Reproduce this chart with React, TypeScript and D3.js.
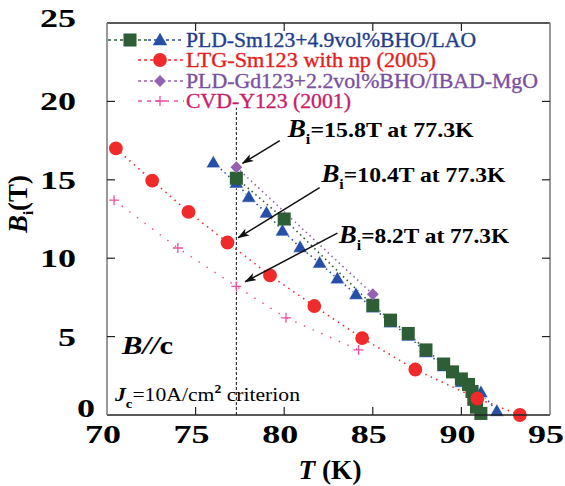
import React from 'react';
import * as d3 from 'd3';

// PLD-Sm123+4.9vol%BHO/LAO (squares)
const tSmSq = [77.3, 80, 85, 86, 87, 88, 89, 89.5, 90, 90.4, 90.6, 90.7, 90.85, 91.1];
const bSmSq = [15.1, 12.5, 7.0, 6.05, 5.2, 4.15, 3.25, 2.75, 2.3, 1.95, 1.5, 1.0, 0.5, 0.1];
// PLD-Sm123+4.9vol%BHO/LAO (triangles)
const tSmTri = [76, 77.3, 78, 79, 79.9, 80.9, 82, 83, 84.05, 85, 86, 87, 88, 89, 90, 91.1, 92];
const bSmTri = [16.1, 14.8, 13.9, 12.9, 11.75, 10.7, 9.7, 8.7, 7.7, 6.85, 5.9, 5.05, 4.0, 3.1, 2.1, 1.45, 0.25];
// LTG-Sm123 with np (2005)
const tLTG = [70.5, 72.55, 74.6, 76.8, 79.2, 81.7, 84.4, 87.4, 90.9, 93.3];
const bLTG = [17.0, 14.95, 12.95, 11.0, 8.9, 6.95, 4.9, 2.9, 1.05, 0];
// PLD-Gd123+2.2vol%BHO/IBAD-MgO
const tGd = [77.3, 85];
const bGd = [15.8, 7.7];
// CVD-Y123 (2001)
const tCVD = [70.4, 74.0, 77.3, 80.1, 84.2];
const bCVD = [13.7, 10.65, 8.2, 6.2, 4.15];

const xTicks = [70, 75, 80, 85, 90, 95];
const yTicks = [0, 5, 10, 15, 20, 25];

const legendLabels = [
  'PLD-Sm123+4.9vol%BHO/LAO',
  'LTG-Sm123 with np (2005)',
  'PLD-Gd123+2.2vol%BHO/IBAD-MgO',
  'CVD-Y123 (2001)',
];
const legendWidths = [290, 250, 352, 165];

// annotations: text anchor and arrow (from -> to), in data units
const annoValues = ['15.8', '10.4', '8.2'];
const annoText = [[80.2, 17.75], [82.1, 14.85], [83.1, 10.95]];
const annoWidths = [186, 184, 170];
const annoArrow = [
  [79.75, 17.5, 77.65, 16.05],
  [82.0, 14.5, 77.4, 11.3],
  [83.0, 11.6, 77.8, 8.5],
];

const W = 565;
const H = 486;
const m = { left: 107, right: 15, top: 23, bottom: 71 };
const FAM = 'Liberation Serif';
const ff = { fontFamily: `'${FAM}'` };

const C = {
  green: '#2e5e35',
  blue: '#2650a8',
  red: '#f02a2a',
  purple: '#9460b0',
  pink: '#f050a0',
};
const legColors = ['#1f3e8c', '#e41e1e', '#7a50a2', '#c81e6a'];

const zip = (a: number[], b: number[]) => a.map((v, i) => [v, b[i]] as [number, number]);

// every run of text goes in its own tspan so the serif face sticks
const T = (props: any) => <tspan style={ff} fontFamily={FAM} {...props} />;

export default function App() {
  const x = d3.scaleLinear().domain([70, 95]).range([m.left, W - m.right]);
  const y = d3.scaleLinear().domain([0, 25]).range([H - m.bottom, m.top]);
  const line = d3.line<[number, number]>().x(d => x(d[0])).y(d => y(d[1]));

  const sq = d3.symbol().type(d3.symbolSquare).size(170)()!;
  const tri = d3.symbol().type(d3.symbolTriangle).size(90)()!;
  const circ = d3.symbol().type(d3.symbolCircle).size(150)()!;
  const dia = d3.symbol().type(d3.symbolSquare).size(70)()!;
  const plus = 'M-5,0H5M0,-5V5';

  const x0 = m.left, x1 = W - m.right, y0 = H - m.bottom, y1 = m.top;

  const legY = [40, 60, 81, 101];

  return (
    <svg width={W} height={H} style={{ position: 'absolute', left: 0, top: 0, background: '#fff' }}>
      <defs>
        <marker id="arr" viewBox="0 0 12 8" refX="11" refY="4" markerWidth="12" markerHeight="8" markerUnits="userSpaceOnUse" orient="auto">
          <path d="M0,0 L12,4 L0,8 L3,4 z" fill="#111" />
        </marker>
      </defs>

      {/* vertical guide at 77.3 K */}
      <line x1={x(77.3)} x2={x(77.3)} y1={y(0)} y2={y(19.6)} stroke="#111" strokeWidth={1} strokeDasharray="3,2" />

      {/* series lines */}
      <path d={line(zip(tSmTri, bSmTri))!} fill="none" stroke={C.blue} strokeWidth={1.6} strokeDasharray="1.5,3.5" />
      <path d={line(zip(tSmSq, bSmSq))!} fill="none" stroke={C.green} strokeWidth={1.6} strokeDasharray="1.5,3.5" />
      <path d={line(zip(tGd, bGd))!} fill="none" stroke={C.purple} strokeWidth={1.6} strokeDasharray="1.5,3.5" />
      <path d={line(zip(tLTG, bLTG))!} fill="none" stroke={C.red} strokeWidth={1.6} strokeDasharray="1.5,4.5" />
      <path d={line(zip(tCVD, bCVD))!} fill="none" stroke={C.pink} strokeWidth={1.5} strokeDasharray="1.5,8" />

      {/* markers */}
      {zip(tSmTri, bSmTri).map((d, i) => (
        <path key={'t' + i} d={tri} transform={`translate(${x(d[0])},${y(d[1]) + 1})`} fill={C.blue} stroke="#fff" strokeWidth={0.6} />
      ))}
      {zip(tSmSq, bSmSq).map((d, i) => (
        <path key={'s' + i} d={sq} transform={`translate(${x(d[0])},${y(d[1])})`} fill={C.green} />
      ))}
      {zip(tGd, bGd).map((d, i) => (
        <path key={'g' + i} d={dia} transform={`translate(${x(d[0])},${y(d[1])}) rotate(45)`} fill={C.purple} />
      ))}
      {zip(tLTG, bLTG).map((d, i) => (
        <path key={'r' + i} d={circ} transform={`translate(${x(d[0])},${y(d[1])})`} fill={C.red} />
      ))}
      {zip(tCVD, bCVD).map((d, i) => (
        <path key={'c' + i} d={plus} transform={`translate(${x(d[0])},${y(d[1])})`} stroke={C.pink} strokeWidth={1.3} fill="none" />
      ))}

      {/* frame */}
      <line x1={x0} x2={x1} y1={y0} y2={y0} stroke="#222" strokeWidth={1.5} />
      <line x1={x0} x2={x1} y1={y1} y2={y1} stroke="#222" strokeWidth={1.5} />
      <line x1={x0} x2={x0} y1={y1} y2={y0} stroke="#777" strokeWidth={1.5} />
      <line x1={x1} x2={x1} y1={y1} y2={y0} stroke="#777" strokeWidth={1.5} />

      {/* ticks */}
      {xTicks.slice(1, -1).map(t => (
        <g key={'xt' + t}>
          <line x1={x(t)} x2={x(t)} y1={y0} y2={y0 - 8} stroke="#222" strokeWidth={1.2} />
          <line x1={x(t)} x2={x(t)} y1={y1} y2={y1 + 8} stroke="#222" strokeWidth={1.2} />
        </g>
      ))}
      {yTicks.slice(1, -1).map(t => (
        <g key={'yt' + t}>
          <line x1={x0} x2={x0 + 8} y1={y(t)} y2={y(t)} stroke="#222" strokeWidth={1.2} />
          <line x1={x1} x2={x1 - 8} y1={y(t)} y2={y(t)} stroke="#222" strokeWidth={1.2} />
        </g>
      ))}

      {/* tick labels */}
      {xTicks.map(t => (
        <text key={'xl' + t} style={ff} fontFamily={FAM} x={x(t) - 4} y={y0 + 28} textAnchor="middle" fontSize={26} fontWeight="bold"
          textLength={36} lengthAdjust="spacingAndGlyphs"><T>{String(t)}</T></text>
      ))}
      {yTicks.map(t => (
        <text key={'yl' + t} style={ff} fontFamily={FAM}
          x={t === 0 ? 95 : 76} y={t === 0 ? y(t) + 2 : y(t) + 9 - (t === 25 ? 5 : 0)}
          textAnchor="end" fontSize={26} fontWeight="bold"
          textLength={t < 10 ? 18 : 36} lengthAdjust="spacingAndGlyphs"><T>{String(t)}</T></text>
      ))}

      {/* axis titles */}
      <text style={ff} fontFamily={FAM} x={330} y={479} textAnchor="middle" fontSize={28} fontWeight="bold" textLength={63} lengthAdjust="spacingAndGlyphs">
        <T fontStyle="italic">T</T><T> (K)</T>
      </text>
      <text style={ff} fontFamily={FAM} transform="translate(27,204) rotate(-90)" textAnchor="middle" fontSize={27} fontWeight="bold">
        <T fontStyle="italic">B</T><T fontSize={15} dy={6}>i</T><T dy={-6}>(T)</T>
      </text>

      {/* legend */}
      <line x1={108} x2={148} y1={legY[0]} y2={legY[0]} stroke={C.green} strokeWidth={1.4} strokeDasharray="3,3" />
      <line x1={148} x2={184} y1={legY[0]} y2={legY[0]} stroke={C.blue} strokeWidth={1.4} strokeDasharray="3,3" />
      <path d={sq} transform={`translate(130,${legY[0]})`} fill={C.green} />
      <path d={tri} transform={`translate(160,${legY[0] + 1})`} fill={C.blue} />
      <line x1={138} x2={184} y1={legY[1]} y2={legY[1]} stroke={C.red} strokeWidth={1.4} strokeDasharray="3,3" />
      <path d={circ} transform={`translate(160,${legY[1]})`} fill={C.red} />
      <line x1={138} x2={184} y1={legY[2]} y2={legY[2]} stroke={C.purple} strokeWidth={1.4} strokeDasharray="3,3" />
      <path d={dia} transform={`translate(160,${legY[2]}) rotate(45)`} fill={C.purple} />
      <line x1={138} x2={184} y1={legY[3]} y2={legY[3]} stroke={C.pink} strokeWidth={1.4} strokeDasharray="4,5" />
      <path d={plus} transform={`translate(160,${legY[3]})`} stroke={C.pink} strokeWidth={1.3} fill="none" />
      {legendLabels.map((s, i) => (
        <text key={'lg' + i} style={ff} fontFamily={FAM} x={186} y={legY[i] + 7} fontSize={20}
          textLength={legendWidths[i]} lengthAdjust="spacingAndGlyphs"
          fill={legColors[i]} stroke={legColors[i]} strokeWidth={0.35}><T>{s}</T></text>
      ))}

      {/* annotations */}
      {annoArrow.map((a, i) => (
        <line key={'ar' + i} x1={x(a[0])} y1={y(a[1])} x2={x(a[2])} y2={y(a[3])} stroke="#111" strokeWidth={1.5} markerEnd="url(#arr)" />
      ))}
      {annoText.map((p, i) => (
        <text key={'an' + i} style={ff} fontFamily={FAM} x={x(p[0])} y={y(p[1])} fontSize={22} fontWeight="bold"
          textLength={annoWidths[i]} lengthAdjust="spacingAndGlyphs">
          <T fontStyle="italic" fontSize={25}>B</T><T fontSize={15} dy={7}>i</T><T dy={-7}>{`=${annoValues[i]}T at 77.3K`}</T>
        </text>
      ))}

      <text style={ff} fontFamily={FAM} x={122} y={354} fontSize={26} fontWeight="bold" textLength={51} lengthAdjust="spacingAndGlyphs">
        <T fontStyle="italic">B//</T><T>c</T>
      </text>
      <text style={ff} fontFamily={FAM} x={115} y={401} fontSize={19} textLength={185} lengthAdjust="spacingAndGlyphs">
        <T fontStyle="italic" fontWeight="bold">J</T><T fontSize={13} fontWeight="bold" dy={7}>c</T><T dy={-7}>=10A/cm</T><T fontSize={12} dy={-8} fontWeight="bold">2</T><T dy={8}> criterion</T>
      </text>
    </svg>
  );
}
